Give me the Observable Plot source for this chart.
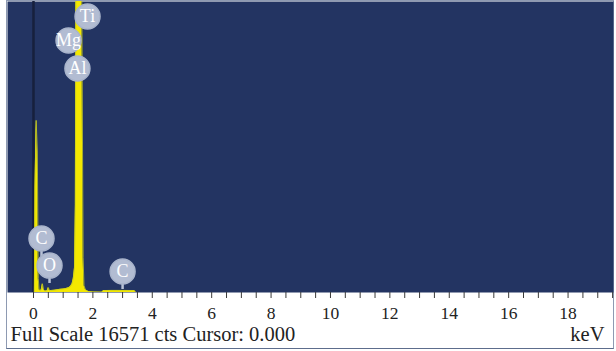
<!DOCTYPE html>
<html>
<head>
<meta charset="utf-8">
<script src="https://cdn.jsdelivr.net/npm/d3@7"></script>
<script src="https://cdn.jsdelivr.net/npm/@observablehq/plot@0.6"></script>
<style>
  html, body { margin: 0; padding: 0; background: #ffffff; }
  #box { position: absolute; left: 6px; top: 0px; width: 606px; height: 347px; border: 1px solid #8e9ab2; border-bottom-color: #5d6d8c; }
  #box svg { display: block; }
</style>
</head>
<body>
<div id="box"></div>
<script>
// Spectrum (energy in keV, counts)
const energy = [-0.9, 0.0, 0.03, 0.05, 0.09, 0.13, 0.16, 0.19, 0.23, 0.26, 0.30, 0.34, 0.38, 0.42, 0.46, 0.50, 0.54, 0.58, 0.7, 0.8, 0.9, 1.0, 1.1, 1.2, 1.25, 1.3, 1.34, 1.38, 1.41, 1.43, 1.5, 1.6, 1.64, 1.67, 1.7, 1.75, 1.85, 2.0, 2.3, 2.36, 2.6, 3.0, 3.4, 3.45, 19.6];
const counts = [0, 0, 0, 6000, 9800, 8000, 800, 150, 100, 150, 500, 150, 90, 80, 100, 280, 100, 110, 130, 160, 180, 200, 230, 280, 350, 500, 800, 1400, 5000, 20000, 40000, 25000, 12000, 2000, 400, 150, 60, 30, 20, 110, 120, 120, 110, 0, 0];

// Element labels
const elements = ["Ti", "Mg", "Al", "C", "O", "C"];
const elementKeV = [1.82, 1.18, 1.48, 0.27, 0.54, 3.0];
const elementCts = [15717, 14350, 12756, 3075, 1537, 1196];
const stemmed = [false, false, false, true, true, true];

// Axis ticks and texts
const minorTicks = d3.range(0, 19.75, 0.5);
const majorTicks = [0, 2, 4, 6, 8, 10, 12, 14, 16, 18];
const fullScale = 16571;
const cursorKeV = 0.000;
const unitLabel = "keV";

const spectrum = energy.map((e, i) => ({keV: e, cts: counts[i]}));
const labels = elements.map((el, i) => ({el, keV: elementKeV[i], cts: elementCts[i], stem: stemmed[i]}));
const caption = `Full Scale ${fullScale} cts Cursor: ${cursorKeV.toFixed(3)}`;

const serif = "'Liberation Serif', 'DejaVu Serif', serif";

const chart = Plot.plot({
  width: 606,
  height: 347,
  marginLeft: 0,
  marginRight: 0,
  marginTop: 0,
  marginBottom: 56,
  x: {domain: [-0.875, 19.53], axis: null},
  y: {domain: [0, fullScale], axis: null},
  style: {background: "#ffffff", fontFamily: serif, overflow: "visible"},
  marks: [
    Plot.frame({fill: "#233462", stroke: null}),
    Plot.ruleX([cursorKeV], {stroke: "#17203d", strokeWidth: 2.5}),
    Plot.areaY(spectrum, {x: "keV", y: "cts", fill: "#f4e800", clip: true}),
    Plot.lineY(spectrum, {x: "keV", y: "cts", stroke: "#c9cf1c", strokeWidth: 0.8, clip: true}),
    Plot.ruleX(labels.filter(d => d.stem), {x: "keV", y1: "cts", y2: "cts", insetBottom: -18, stroke: "#b8c2d6", strokeWidth: 2.5}),
    Plot.dot(labels, {x: "keV", y: "cts", r: 12.5, fill: "#b2bcd2", stroke: "#a9b4cb", strokeWidth: 1.5}),
    Plot.text(labels, {x: "keV", y: "cts", text: "el", fill: "#ffffff", fontSize: 18, fontFamily: serif}),
    Plot.axisX({ticks: minorTicks, tickFormat: () => "", tickSize: 6, stroke: "#3a3a3a", label: null}),
    Plot.axisX({ticks: majorTicks, tickSize: 0, tickPadding: 14, fontSize: 17.5, fill: "#222222", fontFamily: serif, label: null}),
    Plot.text([caption], {frameAnchor: "bottom-left", textAnchor: "start", lineAnchor: "middle", dx: 3, dy: 42, fontSize: 20.5, fill: "#222222", fontFamily: serif}),
    Plot.text([unitLabel], {frameAnchor: "bottom-right", textAnchor: "end", lineAnchor: "middle", dx: -9, dy: 42, fontSize: 20.5, fill: "#222222", fontFamily: serif})
  ]
});
document.getElementById("box").appendChild(chart);
</script>
</body>
</html>
